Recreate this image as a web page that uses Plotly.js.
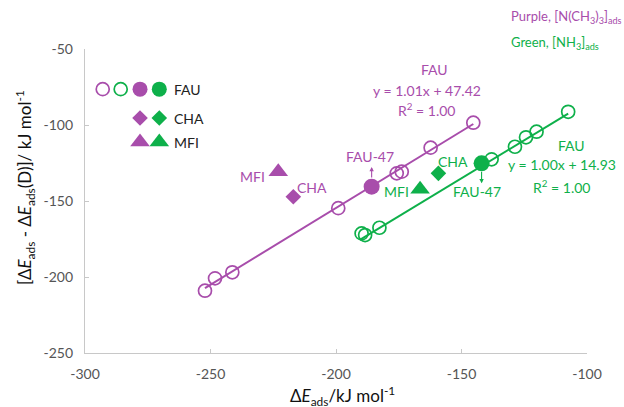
<!DOCTYPE html>
<html>
<head>
<meta charset="utf-8">
<script src="https://cdn.plot.ly/plotly-3.0.1.min.js"></script>
<style>html,body{margin:0;padding:0;background:#fff}#chart{width:624px;height:407px}</style>
</head>
<body>
<div id="chart"></div>
<script>
// ---- data (kJ/mol) ----
const purpleFAU_x = [-252.2, -248.2, -241.3, -199.1, -175.8, -173.8, -162.3, -145.3];
const purpleFAU_y = [-209.0, -200.9, -196.9, -154.7, -131.8, -130.7, -114.9, -98.5];
const purpleFAU47_x = [-185.8];
const purpleFAU47_y = [-140.6];
const purpleCHA_x = [-217.0];
const purpleCHA_y = [-147.2];
const purpleMFI_x = [-223.0];
const purpleMFI_y = [-130.7];

const greenFAU_x = [-189.8, -188.4, -182.7, -138.0, -128.7, -124.3, -120.1, -107.5];
const greenFAU_y = [-171.3, -172.4, -167.6, -122.6, -114.3, -108.1, -104.4, -91.3];
const greenFAU47_x = [-142.0];
const greenFAU47_y = [-125.2];
const greenCHA_x = [-159.2];
const greenCHA_y = [-131.8];
const greenMFI_x = [-166.5];
const greenMFI_y = [-142.3];

// linear fits as printed on the chart
const purpleFit = {slope: 1.01, intercept: 47.42, xRange: [-252.2, -145.3]};
const greenFit = {slope: 1.00, intercept: 14.93, xRange: [-190.5, -107.5]};

const xTicks = [-300, -250, -200, -150, -100];
const yTicks = [-250, -200, -150, -100, -50];
const legendLabels = ['FAU', 'CHA', 'MFI'];

// ---- styling ----
const PURPLE = '#A84DAB';
const GREEN = '#0EB04A';
const FONT = 'Lato, "Noto Sans", sans-serif';

function fitLine(f) {
  const xs = f.xRange.slice();
  return {x: xs, y: xs.map(v => f.slope * v + f.intercept)};
}
const pl = fitLine(purpleFit), gl = fitLine(greenFit);

const openMarker = c => ({symbol: 'circle-open', size: 13, color: c, line: {color: c, width: 1.7}});
const DIA = 12, TRI = 17;

const traces = [
  {x: pl.x, y: pl.y, mode: 'lines', line: {color: PURPLE, width: 2}, hoverinfo: 'skip'},
  {x: gl.x, y: gl.y, mode: 'lines', line: {color: GREEN, width: 2}, hoverinfo: 'skip'},
  {x: purpleFAU_x, y: purpleFAU_y, mode: 'markers', marker: openMarker(PURPLE)},
  {x: greenFAU_x, y: greenFAU_y, mode: 'markers', marker: openMarker(GREEN)},
  {x: purpleFAU47_x, y: purpleFAU47_y, mode: 'markers', marker: {symbol: 'circle', size: 16, color: PURPLE}},
  {x: greenFAU47_x, y: greenFAU47_y, mode: 'markers', marker: {symbol: 'circle', size: 16, color: GREEN}},
  {x: purpleCHA_x, y: purpleCHA_y, mode: 'markers', marker: {symbol: 'diamond', size: DIA, color: PURPLE}},
  {x: greenCHA_x, y: greenCHA_y, mode: 'markers', marker: {symbol: 'diamond', size: DIA, color: GREEN}},
  {x: purpleMFI_x, y: purpleMFI_y, mode: 'markers', marker: {symbol: 'triangle-up', size: TRI, color: PURPLE}},
  {x: greenMFI_x, y: greenMFI_y, mode: 'markers', marker: {symbol: 'triangle-up', size: TRI, color: GREEN}}
];

// legend glyphs drawn on an overlay axis in [0,1] units (layout positions)
const LG = {cols: [0.0353, 0.0711, 0.1096, 0.148], rows: [0.868, 0.773, 0.694], textX: 0.173};
traces.push(
  {x: [LG.cols[0]], y: [LG.rows[0]], xaxis: 'x2', yaxis: 'y2', mode: 'markers', marker: openMarker(PURPLE)},
  {x: [LG.cols[1]], y: [LG.rows[0]], xaxis: 'x2', yaxis: 'y2', mode: 'markers', marker: openMarker(GREEN)},
  {x: [LG.cols[2]], y: [LG.rows[0]], xaxis: 'x2', yaxis: 'y2', mode: 'markers', marker: {symbol: 'circle', size: 15, color: PURPLE}},
  {x: [LG.cols[3]], y: [LG.rows[0]], xaxis: 'x2', yaxis: 'y2', mode: 'markers', marker: {symbol: 'circle', size: 15, color: GREEN}},
  {x: [LG.cols[2]], y: [LG.rows[1]], xaxis: 'x2', yaxis: 'y2', mode: 'markers', marker: {symbol: 'diamond', size: DIA, color: PURPLE}},
  {x: [LG.cols[3]], y: [LG.rows[1]], xaxis: 'x2', yaxis: 'y2', mode: 'markers', marker: {symbol: 'diamond', size: DIA, color: GREEN}},
  {x: [LG.cols[2]], y: [LG.rows[2]], xaxis: 'x2', yaxis: 'y2', mode: 'markers', marker: {symbol: 'triangle-up', size: TRI, color: PURPLE}},
  {x: [LG.cols[3]], y: [LG.rows[2]], xaxis: 'x2', yaxis: 'y2', mode: 'markers', marker: {symbol: 'triangle-up', size: TRI, color: GREEN}}
);

const txt = (x, y, text, color, size, extra) => Object.assign({
  x, y, xref: 'x', yref: 'y', text, showarrow: false,
  font: {family: FONT, size: size || 14, color}
}, extra || {});

const annotations = [
  txt(-160.6, -63.8, 'FAU', PURPLE),
  txt(-163.7, -77.4, 'y = 1.01x + 47.42', PURPLE),
  txt(-163.9, -90.1, 'R<sup>2</sup> = 1.00', PURPLE),
  txt(-186.5, -120.9, 'FAU-47', PURPLE),
  txt(-233.1, -134.0, 'MFI', PURPLE),
  txt(-209.6, -140.9, 'CHA', PURPLE),
  txt(-153.5, -124.1, 'CHA', GREEN),
  txt(-175.8, -143.9, 'MFI', GREEN),
  txt(-144.0, -143.9, 'FAU-47', GREEN),
  txt(-106.0, -113.2, 'FAU', GREEN),
  txt(-109.8, -126.3, 'y = 1.00x + 14.93', GREEN),
  txt(-110.1, -140.6, 'R<sup>2</sup> = 1.00', GREEN),
  // arrows
  {x: purpleFAU47_x[0], y: -127.6, xref: 'x', yref: 'y', text: '', showarrow: true, ax: 0, ay: 12,
   arrowhead: 2, arrowsize: 0.8, arrowwidth: 1.1, arrowcolor: PURPLE},
  {x: greenFAU47_x[0], y: -138.4, xref: 'x', yref: 'y', text: '', showarrow: true, ax: 0, ay: -13,
   arrowhead: 2, arrowsize: 0.8, arrowwidth: 1.1, arrowcolor: GREEN},
  // top-right key
  {xref: 'paper', yref: 'paper', x: 0.845, y: 1.105, xanchor: 'left', yanchor: 'middle', showarrow: false,
   text: 'Purple, [N(CH<sub>3</sub>)<sub>3</sub>]<sub>ads</sub>', font: {family: FONT, size: 13, color: PURPLE}},
  {xref: 'paper', yref: 'paper', x: 0.845, y: 1.0197, xanchor: 'left', yanchor: 'middle', showarrow: false,
   text: 'Green, [NH<sub>3</sub>]<sub>ads</sub>', font: {family: FONT, size: 13, color: GREEN}},
  // axis titles
  {xref: 'paper', yref: 'paper', x: -0.1195, y: 0.543, textangle: -90, showarrow: false,
   xanchor: 'center', yanchor: 'middle',
   text: '[Δ<i>E</i><sub>ads</sub> - Δ<i>E</i><sub>ads</sub>(D)]/ kJ mol<sup>-1</sup>',
   font: {family: FONT, size: 17, color: '#111'}},
  {xref: 'paper', yref: 'paper', x: 0.512, y: -0.14, showarrow: false,
   xanchor: 'center', yanchor: 'middle',
   text: 'Δ<i>E</i><sub>ads</sub>/kJ mol<sup>-1</sup>',
   font: {family: FONT, size: 17, color: '#111'}}
];
legendLabels.forEach((l, i) => annotations.push({
  xref: 'paper', yref: 'paper', x: LG.textX, y: LG.rows[i], xanchor: 'left', yanchor: 'middle',
  showarrow: false, text: l, font: {family: FONT, size: 14, color: '#222'}
}));

const axisCommon = {
  showgrid: false, zeroline: false, showline: true, linecolor: '#c8c8c8', linewidth: 1.2,
  ticks: 'inside', ticklen: 4, tickcolor: '#c8c8c8', tickwidth: 1,
  tickfont: {family: FONT, size: 14, color: '#555'}, ticklabelstandoff: 8
};

const layout = {
  width: 624, height: 407,
  margin: {l: 85, r: 37, t: 49, b: 54},
  paper_bgcolor: '#fff', plot_bgcolor: '#fff',
  showlegend: false,
  font: {family: FONT},
  xaxis: Object.assign({}, axisCommon, {range: [-300, -100], tickvals: xTicks, ticktext: xTicks.map(String)}),
  yaxis: Object.assign({}, axisCommon, {range: [-250, -50], tickvals: yTicks, ticktext: yTicks.map(String)}),
  xaxis2: {overlaying: 'x', range: [0, 1], visible: false, fixedrange: true},
  yaxis2: {overlaying: 'y', range: [0, 1], visible: false, fixedrange: true},
  annotations
};

Plotly.newPlot('chart', traces, layout, {staticPlot: true, displayModeBar: false});
</script>
</body>
</html>
